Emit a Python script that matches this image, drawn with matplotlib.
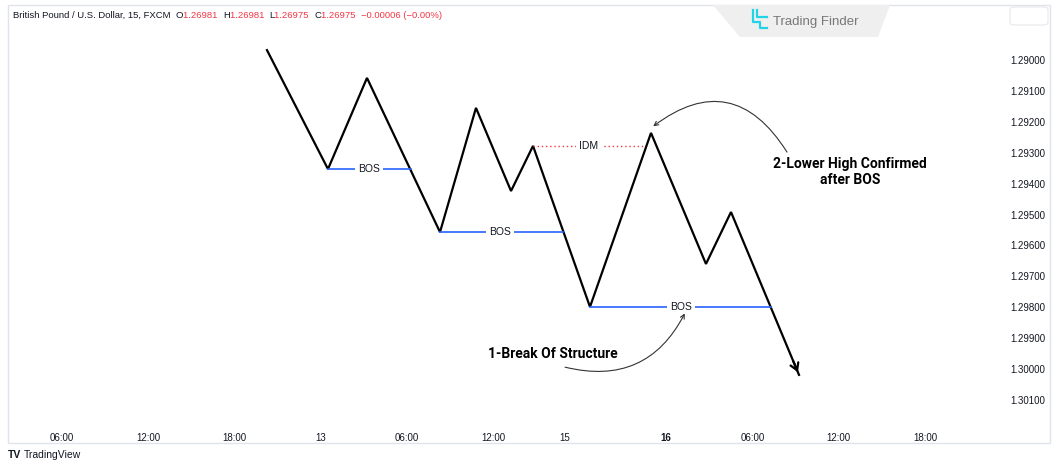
import matplotlib.pyplot as plt
from matplotlib.patches import Polygon, Rectangle, FancyBboxPatch
from matplotlib.lines import Line2D

# swing path (x in 6h tick units, y price; axis inverted like the screenshot)
swing_x = [2.375, 3.082, 3.534, 4.380, 4.797, 5.203, 5.458, 6.118, 6.825, 7.462, 7.752, 8.540]
swing_y = [1.28968, 1.29353, 1.29058, 1.29557, 1.29155, 1.29424, 1.29278, 1.29799, 1.29236, 1.29660, 1.29492, 1.30019]

bos_x0 = [3.082, 4.380, 6.118]
bos_x1 = [4.044, 5.805, 8.216]
bos_y = [1.29353, 1.29557, 1.29799]
bos_label_x = [3.557, 5.075, 7.173]

idm_x = [5.458, 6.744]
idm_y = 1.29278
idm_label_x = 6.107

x_ticks = [0, 1, 2, 3, 4, 5, 5.83, 7, 8, 9, 10]
x_labels = ['06:00', '12:00', '18:00', '13', '06:00', '12:00', '15', '16', '06:00', '12:00', '18:00']
y_ticks = [1.290, 1.291, 1.292, 1.293, 1.294, 1.295, 1.296, 1.297, 1.298, 1.299, 1.300, 1.301]

header = ['British Pound / U.S. Dollar, 15, FXCM  ', 'O', '1.26981  ', 'H', '1.26981  ', 'L', '1.26975  ',
          'C', '1.26975  ', '\u22120.00006 (\u22120.00%)']

plt.rcParams['font.family'] = ['Liberation Sans', 'DejaVu Sans']

fig = plt.figure(figsize=(10.53, 4.65), dpi=100)
ax = fig.add_axes([10 / 1053, 43 / 465, 995 / 1053, 414 / 465])

ax.plot(swing_x, swing_y, color='black', lw=1.6, solid_joinstyle='miter')
ax.annotate('', xy=(swing_x[-1], swing_y[-1]), xytext=(swing_x[-2] + 0.9 * (swing_x[-1] - swing_x[-2]),
                                                      swing_y[-2] + 0.9 * (swing_y[-1] - swing_y[-2])),
            arrowprops=dict(arrowstyle='->,head_length=0.5,head_width=0.3', color='black', lw=1.6))

blue = '#2962ff'
for x0, x1, y, lx in zip(bos_x0, bos_x1, bos_y, bos_label_x):
    ax.plot([x0, x1], [y, y], color=blue, lw=1.2)
    ax.text(lx, y, 'BOS', ha='center', va='center', fontsize=7.5, color='#131722',
            bbox=dict(facecolor='white', edgecolor='none', pad=2.5))

ax.plot(idm_x, [idm_y, idm_y], color='#f23645', lw=1, ls=(0, (1, 2)))
ax.text(idm_label_x, idm_y, 'IDM', ha='center', va='center', fontsize=7.5, color='#131722',
        bbox=dict(facecolor='white', edgecolor='none', pad=2.5))

ax.text(9.131, 1.29362, '2-Lower High Confirmed\nafter BOS', ha='center', va='center',
        fontsize=10, fontweight='bold', family='Roboto', linespacing=1.2)
ax.annotate('', xy=(6.825, 1.29220), xytext=(8.401, 1.29298),
            arrowprops=dict(arrowstyle='->,head_length=0.3,head_width=0.15', color='#333333', lw=0.8,
                            connectionstyle='arc3,rad=0.55', shrinkA=0, shrinkB=2))

ax.text(5.689, 1.29951, '1-Break Of Structure', ha='center', va='center',
        fontsize=10, fontweight='bold', family='Roboto')
ax.annotate('', xy=(7.231, 1.29812), xytext=(5.829, 1.29994),
            arrowprops=dict(arrowstyle='->,head_length=0.3,head_width=0.15', color='#333333', lw=0.8,
                            connectionstyle='arc3,rad=0.4', shrinkA=0, shrinkB=2))

ax.set_xlim(-0.6026, 10.927)
ax.set_ylim(1.301715, 1.288317)
ax.set_xticks(x_ticks)
ax.set_xticklabels(x_labels)
ax.set_yticks(y_ticks)
ax.set_yticklabels([f'{v:.5f}' for v in y_ticks])
ax.yaxis.tick_right()
ax.tick_params(axis='both', length=0, labelsize=7, colors='#131722')
ax.tick_params(axis='y', pad=4)
ax.tick_params(axis='x', pad=8)
for lbl in ax.get_xticklabels():
    if lbl.get_text() == '16':
        lbl.set_fontweight('bold')
for s in ax.spines.values():
    s.set_visible(False)
ax.patch.set_alpha(0)

# chart frame and logo
fig.patches.append(Rectangle((8 / 1053, 22 / 465), 1042 / 1053, 438 / 465, transform=fig.transFigure,
                             facecolor='none', edgecolor='#e0e3eb', lw=1))
fig.patches.append(Polygon([[713 / 1053, 460 / 465], [890 / 1053, 460 / 465], [878 / 1053, 428 / 465],
                            [740 / 1053, 428 / 465]], closed=True, transform=fig.transFigure,
                           facecolor='#efefef', edgecolor='none'))
fig.patches.append(FancyBboxPatch((1010 / 1053, 440 / 465), 38 / 1053, 18 / 465, transform=fig.transFigure,
                                  boxstyle='round,pad=0,rounding_size=0.005', facecolor='white',
                                  edgecolor='#e8e8e8', lw=0.8))
cyan = '#22d3e6'
W, H = 1053, 465
fig.lines.append(Line2D([753 / W, 753 / W, 760 / W, 760 / W, 767 / W], [455 / H, 443 / H, 443 / H, 437 / H, 437 / H],
                        transform=fig.transFigure, color=cyan, lw=1.6))
fig.lines.append(Line2D([757 / W, 757 / W, 767 / W], [455 / H, 448 / H, 448 / H],
                        transform=fig.transFigure, color=cyan, lw=1.6))
fig.text(773 / W, 443 / H, 'Trading Finder', color='#777777', fontsize=9.5, va='center', ha='left')

# header: pieces laid out one after another
red = '#f23645'
fig.canvas.draw()
renderer = fig.canvas.get_renderer()
hx = 13
for i, t in enumerate(header):
    col = '#131722' if i in (0, 1, 3, 5, 7) else red
    txt = fig.text(hx / W, 450 / H, t, fontsize=6.8, color=col, va='center', ha='left')
    hx += txt.get_window_extent(renderer).width

fig.text(8 / W, 10 / H, 'TV', fontsize=7.5, fontweight='bold', color='#131722', va='center')
fig.text(24 / W, 10 / H, 'TradingView', fontsize=7.5, color='#131722', va='center')

fig.savefig('out.png', dpi=100, facecolor='white')
